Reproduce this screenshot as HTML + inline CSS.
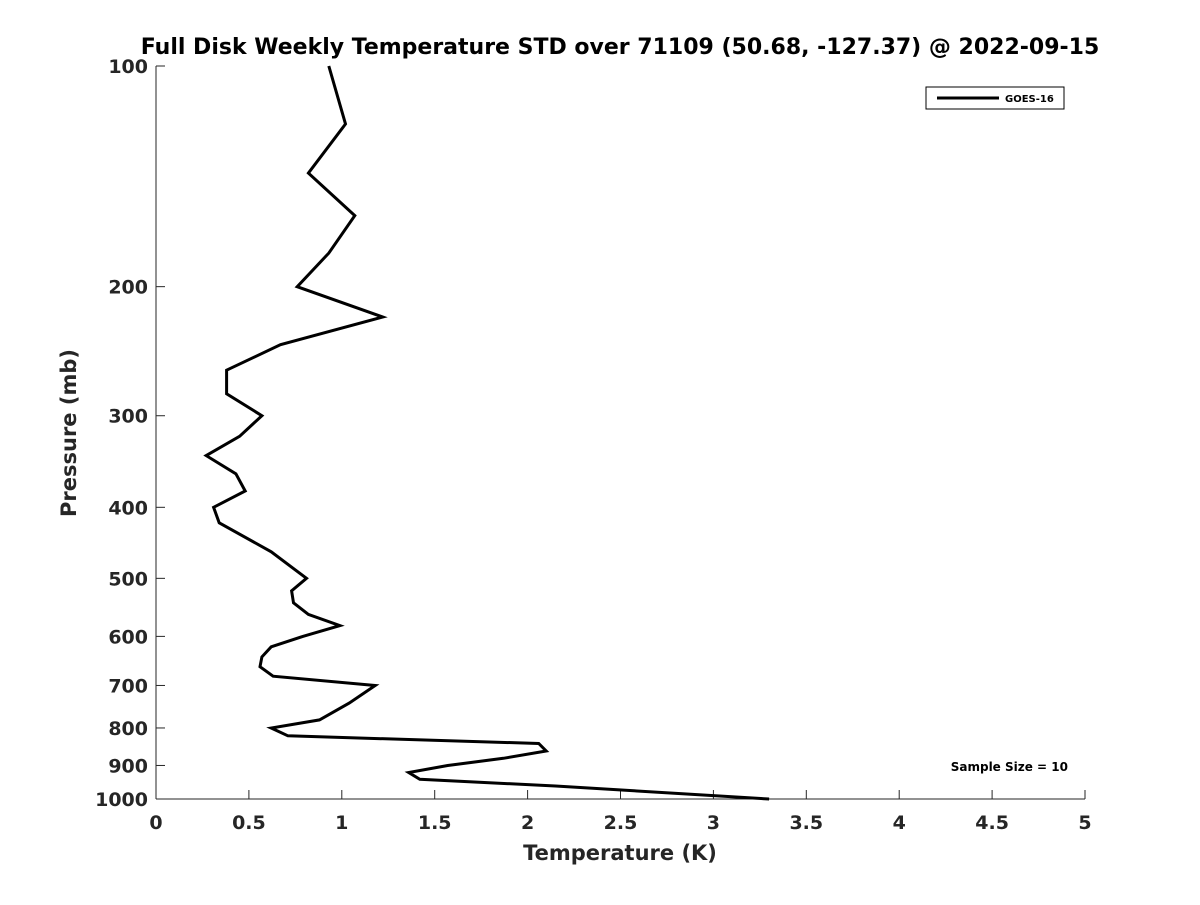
<!DOCTYPE html>
<html><head><meta charset="utf-8"><style>
body{margin:0;background:#fff;}
svg text{font-family:"DejaVu Sans","Liberation Sans",sans-serif;font-weight:bold;fill:#262626;}
</style></head><body>
<svg id="chart" width="1200" height="900">
<text x="620" y="54" text-anchor="middle" font-size="22" style="fill:#000">Full Disk Weekly Temperature STD over 71109 (50.68, -127.37) @ 2022-09-15</text>
<g id="axes"></g>
<g id="series"></g>
<g>
<rect x="926" y="87" width="138" height="22" fill="#fff" stroke="#000" stroke-width="1"/>
<line x1="937" y1="98" x2="999" y2="98" stroke="#000" stroke-width="3"/>
<text x="1005" y="102" font-size="10" style="fill:#000">GOES-16</text>
</g>
<text x="1068" y="771" text-anchor="end" font-size="12" style="fill:#000">Sample Size = 10</text>
<text x="620" y="860" text-anchor="middle" font-size="21">Temperature (K)</text>
<text transform="translate(76,433) rotate(-90)" text-anchor="middle" font-size="21">Pressure (mb)</text>
</svg>
<script>
const pressures=[100,120,140,160,180,200,220,240,260,280,300,320,340,360,380,400,420,460,485,500,520,540,560,580,600,620,640,660,680,700,740,780,800,820,840,860,880,900,920,940,960,1000];
const stdValues=[0.93,1.02,0.82,1.07,0.93,0.76,1.22,0.67,0.38,0.38,0.57,0.45,0.27,0.43,0.48,0.31,0.34,0.62,0.74,0.81,0.73,0.74,0.82,0.99,0.79,0.62,0.57,0.56,0.63,1.18,1.04,0.88,0.62,0.71,2.06,2.10,1.87,1.57,1.36,1.42,2.15,3.30];
const xTicks=[0,0.5,1,1.5,2,2.5,3,3.5,4,4.5,5];
const xTickLabels=["0","0.5","1","1.5","2","2.5","3","3.5","4","4.5","5"];
const yTicks=[100,200,300,400,500,600,700,800,900,1000];
const L=156,R=1085,T=66,B=799;
const xs=v=>L+(v/5)*(R-L);
const ys=p=>T+Math.log10(p/100)*(B-T);
const NS="http://www.w3.org/2000/svg";
const ax=document.getElementById('axes');
function mk(t,a,p){const e=document.createElementNS(NS,t);for(const k in a)e.setAttribute(k,a[k]);p.appendChild(e);return e;}
const xl=mk('line',{x1:L,y1:B,x2:R,y2:B,stroke:'#262626','stroke-width':1},ax);


const yl=mk('line',{x1:L,y1:T,x2:L,y2:B,stroke:'#262626','stroke-width':1},ax);


xTicks.forEach((v,i)=>{
 mk('line',{x1:xs(v),y1:B,x2:xs(v),y2:B-9,stroke:'#262626'},ax);
 const t=mk('text',{x:xs(v),y:B+30,'text-anchor':'middle','font-size':19},ax);
 t.textContent=xTickLabels[i];
 
 
});
yTicks.forEach(p=>{
 mk('line',{x1:L,y1:ys(p),x2:L+9,y2:ys(p),stroke:'#262626'},ax);
 const t=mk('text',{x:L-8,y:ys(p)+7,'text-anchor':'end','font-size':19},ax);
 t.textContent=String(p);
 
 
});
const pts=pressures.map((p,i)=>xs(stdValues[i]).toFixed(1)+','+ys(p).toFixed(1)).join(' ');
const line=mk('polyline',{points:pts,fill:'none',stroke:'#000','stroke-width':3,'stroke-linejoin':'miter'},document.getElementById('series'));


</script>
</body></html>
